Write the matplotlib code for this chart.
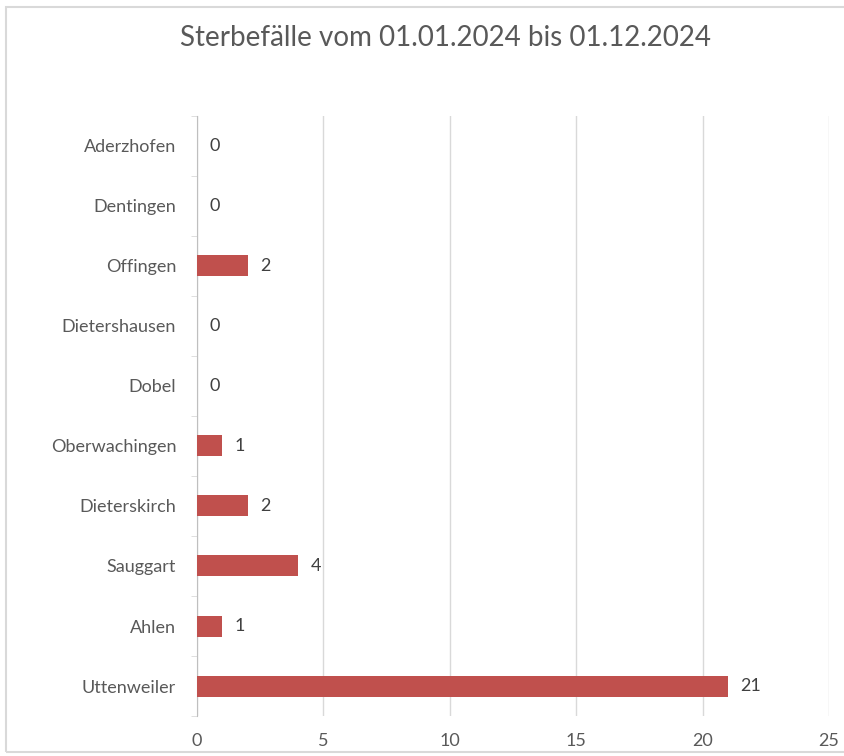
import matplotlib.pyplot as plt
from matplotlib.patches import Rectangle

# data, bottom to top
orte = ['Uttenweiler', 'Ahlen', 'Sauggart', 'Dieterskirch', 'Oberwachingen',
        'Dobel', 'Dietershausen', 'Offingen', 'Dentingen', 'Aderzhofen']
sterbefaelle = [21, 1, 4, 2, 1, 0, 0, 2, 0, 0]
x_ticks = [0, 5, 10, 15, 20, 25]

plt.rcParams['font.family'] = ['Lato', 'DejaVu Sans']

fig = plt.figure(figsize=(8.45, 7.56), dpi=100)
ax = fig.add_axes([0.2331, 0.0529, 0.748, 0.7937])

y = list(range(len(orte)))
ax.barh(y, sterbefaelle, height=0.35, color='#C0504D', zorder=3)
for yi, v in zip(y, sterbefaelle):
    ax.text(v + 0.5, yi, str(v), va='center', ha='left', fontsize=13, color='#404040')

ax.set_xlim(0, 25)
ax.set_ylim(-0.5, len(orte) - 0.5)
ax.set_xticks(x_ticks)
ax.set_yticks(y)
ax.set_yticklabels(orte)
# small marks at category boundaries like the original
ax.set_yticks([i - 0.5 for i in range(len(orte) + 1)], minor=True)
ax.tick_params(axis='y', which='minor', length=4, color='#D9D9D9')
ax.tick_params(axis='x', length=0, pad=12, labelsize=13, labelcolor='#595959')
ax.tick_params(axis='y', which='major', length=0, pad=15, labelsize=13, labelcolor='#595959')
ax.grid(axis='x', color='#D9D9D9', linewidth=1, zorder=0)

for s in ['top', 'right', 'bottom']:
    ax.spines[s].set_visible(False)
ax.spines['left'].set_color('#BFBFBF')

fig.text(0.527, 0.950, 'Sterbefälle vom 01.01.2024 bis 01.12.2024',
         ha='center', va='center', fontsize=20, color='#595959')

# light frame around the chart
fig.patches.append(Rectangle((6 / 845, 4 / 756), 1.2, 745 / 756, transform=fig.transFigure,
                             fill=False, edgecolor='#D9D9D9', linewidth=1.5))

fig.savefig('out.png', dpi=100)
